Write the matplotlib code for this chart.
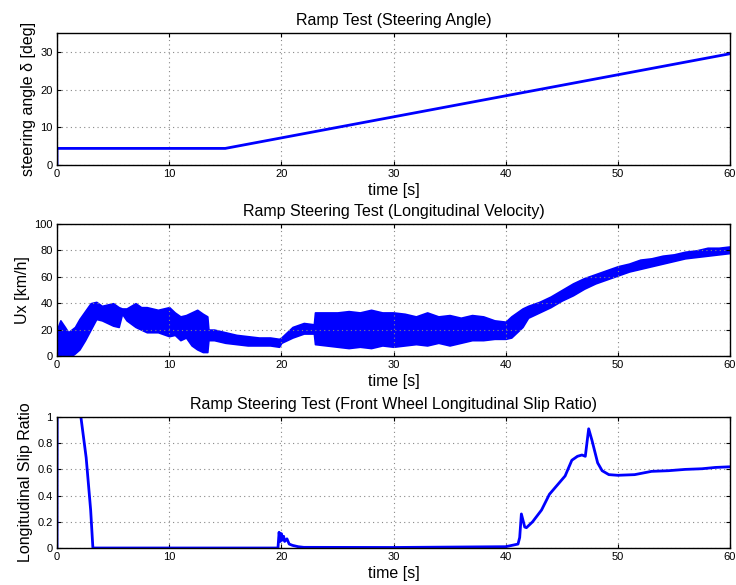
import numpy as np
import matplotlib
matplotlib.use('Agg')
import matplotlib.pyplot as plt

plt.rcParams['font.family'] = ['Liberation Sans', 'DejaVu Sans']

# steering angle (deg)
steer_t = [0, 0, 15, 60]
steer_v = [0, 4.4, 4.4, 29.5]

# longitudinal velocity band (km/h): lower / upper envelope
ux_t = [0, 0.3, 0.7, 1.0, 1.3, 1.6, 2.0, 2.5, 3.0, 3.5, 4.0, 4.5, 5.0, 5.5, 5.8, 6.2, 7.0, 7.5, 8.0,
        9.0, 10.0, 10.5, 11.0, 11.5, 12.0, 12.5, 13.0, 13.4, 13.5, 14.0, 15.0, 16.0, 17.0, 18.0,
        19.0, 19.8, 20.0, 20.5, 21.0, 22.0, 22.9, 23.0, 24.0, 25.0, 26.0, 27.0, 28.0, 29.0, 30.0,
        31.0, 32.0, 33.0, 34.0, 35.0, 36.0, 37.0, 38.0, 39.0, 40.0, 40.5, 41.0, 41.5, 42.0, 43.0,
        44.0, 45.0, 46.0, 47.0, 48.0, 49.0, 50.0, 51.0, 52.0, 53.0, 54.0, 55.0, 56.0, 57.0, 58.0,
        59.0, 60.0]
ux_lo = [0, 0, 0, 0, 0, 2, 5, 12, 20, 28, 27, 25, 23, 22, 32, 27, 22, 20, 18,
         18, 15, 16, 12, 14, 8, 5, 3, 3, 12, 12, 10, 9, 8, 8,
         8, 7, 10, 12, 14, 17, 17, 9, 8, 7, 6, 7, 6, 8, 7,
         8, 9, 8, 10, 8, 10, 12, 12, 13, 13, 14, 18, 22, 29, 33,
         37, 42, 46, 51, 55, 58, 61, 64, 66, 68, 70, 72, 74, 75, 76,
         77, 78]
ux_hi = [20, 27, 22, 18, 20, 22, 28, 34, 40, 41, 38, 39, 40, 37, 36, 36, 40, 37, 37,
         35, 37, 33, 30, 31, 33, 35, 32, 30, 20, 20, 18, 16, 15, 14,
         14, 13, 14, 18, 22, 25, 24, 33, 33, 33, 34, 33, 35, 33, 33,
         32, 30, 33, 30, 31, 29, 31, 30, 27, 26, 30, 33, 36, 38, 41,
         45, 50, 55, 59, 62, 65, 68, 70, 73, 74, 76, 77, 79, 80, 82,
         82, 83]

# front wheel longitudinal slip ratio
slip_t = [0, 0.02, 2.0, 2.13, 2.6, 2.9, 3.0, 3.2, 3.5, 11.0, 19.7, 19.8, 19.9, 20.0, 20.1, 20.2,
          20.3, 20.5, 20.7, 21.0, 21.5, 22.0, 30.0, 40.0, 41.1, 41.25, 41.4, 41.7, 41.85, 42.4,
          43.2, 43.9, 44.7, 45.3, 45.9, 46.4, 46.8, 47.1, 47.4, 47.7, 48.2, 48.6, 49.2, 50.0,
          51.5, 53.0, 54.5, 56.0, 57.5, 58.7, 60.0]
slip_v = [0, 1.5, 1.05, 1.0, 0.69, 0.39, 0.29, 0, 0, 0, 0, 0.12, 0.05, 0.11, 0.06, 0.09,
          0.05, 0.07, 0.03, 0.02, 0.01, 0.005, 0.004, 0.01, 0.03, 0.08, 0.26, 0.16, 0.155, 0.2,
          0.29, 0.41, 0.49, 0.55, 0.67, 0.70, 0.71, 0.70, 0.91, 0.82, 0.65, 0.59, 0.56, 0.555,
          0.56, 0.585, 0.59, 0.60, 0.605, 0.615, 0.62]

W, H = 736, 585
fig = plt.figure(figsize=(W / 100, H / 100), dpi=100)

def px_axes(top, bottom, left=57, right=730):
    return fig.add_axes([left / W, (H - bottom) / H, (right - left) / W, (bottom - top) / H])

def style(ax, ylim, yticks, title, ylabel):
    ax.set_xlim(0, 60)
    ax.set_xticks(np.arange(0, 61, 10))
    ax.set_ylim(*ylim)
    ax.set_yticks(yticks)
    ax.grid(True, color='#888888', linestyle=(0, (1, 3)), linewidth=0.8)
    ax.tick_params(direction='in', top=True, right=True, labelsize=8, length=3, pad=3)
    for s in ax.spines.values():
        s.set_linewidth(1.0)
    ax.set_title(title, fontsize=11.5, pad=6)
    ax.set_xlabel('time [s]', fontsize=11.5, labelpad=3)
    ax.set_ylabel(ylabel, fontsize=11.5, labelpad=3)

ax1 = px_axes(33, 165)
ax1.plot(steer_t, steer_v, color='#0000ff', linewidth=2)
style(ax1, (0, 35), [0, 10, 20, 30], 'Ramp Test (Steering Angle)', 'steering angle \u03b4 [deg]')

ax2 = px_axes(224, 356)
ax2.fill_between(ux_t, ux_lo, ux_hi, color='#0000ff', linewidth=1.2, edgecolor='#0000ff')
style(ax2, (0, 100), [0, 20, 40, 60, 80, 100], 'Ramp Steering Test (Longitudinal Velocity)', 'Ux [km/h]')

ax3 = px_axes(417, 548)
ax3.plot(slip_t, slip_v, color='#0000ff', linewidth=2)
style(ax3, (0, 1), [0, 0.2, 0.4, 0.6, 0.8, 1], 'Ramp Steering Test (Front Wheel Longitudinal Slip Ratio)',
      'Longitudinal Slip Ratio')
ax3.set_yticklabels(['0', '0.2', '0.4', '0.6', '0.8', '1'])

fig.savefig('out.png', dpi=100)
